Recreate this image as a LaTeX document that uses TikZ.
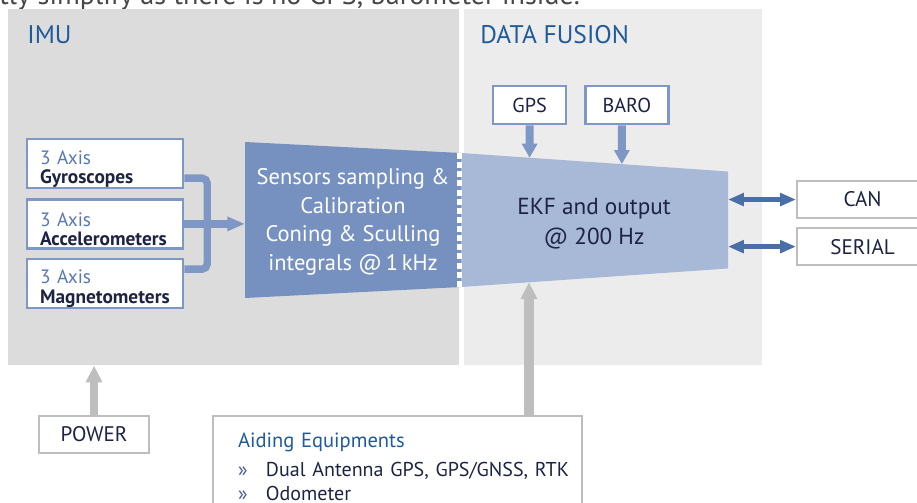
\documentclass[tikz,border=0pt]{standalone}
\usepackage{fontspec}
\setmainfont{PT Sans}
\usetikzlibrary{positioning,arrows.meta,calc}

\definecolor{imugrey}{RGB}{220,220,220}
\definecolor{fusiongrey}{RGB}{236,236,236}
\definecolor{titleblue}{RGB}{31,90,155}
\definecolor{frameblue}{RGB}{127,151,196}
\definecolor{axisblue}{RGB}{88,120,180}
\definecolor{sampleblue}{RGB}{118,145,192}
\definecolor{ekfblue}{RGB}{168,184,215}
\definecolor{navy}{RGB}{29,35,66}
\definecolor{linkblue}{RGB}{74,110,168}
\definecolor{aidgrey}{RGB}{190,190,190}
\definecolor{bulletblue}{RGB}{70,90,170}
\definecolor{textgrey}{RGB}{70,70,70}

\tikzset{
  panel/.style={anchor=north west, inner sep=0pt, minimum height=7.12cm},
  paneltitle/.style={anchor=base west, inner sep=0pt, text=titleblue, font=\fontsize{14.5}{16}\selectfont},
  sensorbox/.style={draw=frameblue, line width=1.3pt, fill=white, anchor=north west, minimum height=0.98cm, text width=2.6cm, inner xsep=0.26cm, inner ysep=0pt, align=left, text=navy, font=\fontsize{11}{11.3}\selectfont},
  inbox/.style={draw=frameblue, line width=1.3pt, fill=white, minimum height=0.76cm, inner sep=0pt, text=navy, font=\fontsize{11.5}{13}\selectfont},
  outbox/.style={draw=aidgrey, line width=1.2pt, fill=white, minimum height=0.74cm, inner sep=0pt, text=navy, font=\fontsize{12}{14}\selectfont},
  bus/.style={draw=frameblue, line width=4.2pt},
  feed/.style={draw=frameblue, line width=4.5pt, -{Triangle[length=8pt,width=8.5pt]}},
  supply/.style={draw=aidgrey, line width=4.6pt, -{Triangle[length=9.6pt,width=9pt]}},
  link/.style={draw=linkblue, line width=3pt, {Triangle[length=9pt,width=7pt]}-{Triangle[length=9pt,width=7pt]}},
}

\begin{document}
\begin{tikzpicture}[x=0.02cm, y=-0.02cm]
\useasboundingbox (0,0) rectangle (917,503);
\clip (0,0) rectangle (917,503);
\node[anchor=base west, inner sep=0pt, text=textgrey, font=\fontsize{16}{18}\selectfont] (prevline) at (-1,5) {tly simplify as there is no GPS, barometer inside.};

\node[panel, fill=imugrey, minimum width=9.02cm] (imu) at (8,9) {};
\node[panel, fill=fusiongrey, minimum width=5.96cm] (fusion) at (464,9) {};
\node[paneltitle] (imutitle) at (27,44) {IMU};
\node[paneltitle] (fusiontitle) at (480,44) {DATA FUSION};

\node[sensorbox] (gyro) at (26,138) {\rule{0pt}{14pt}\textcolor{axisblue}{3 Axis}\\\textbf{Gyroscopes}};
\node[sensorbox, below=0.18cm of gyro] (accel) {\rule{0pt}{14pt}\textcolor{axisblue}{3 Axis}\\\textbf{Accelerometers}};
\node[sensorbox, below=0.16cm of accel] (mag) {\rule{0pt}{14pt}\textcolor{axisblue}{3 Axis}\\\textbf{Magnetometers}};

\coordinate (smpnw) at (245,142);
\coordinate (smpsw) at (245,298);
\coordinate (smpne) at (461,153);
\coordinate (smpse) at (461,287);
\coordinate (ekfne) at (728,171.5);
\coordinate (ekfse) at (728,268.5);
\fill[sampleblue] (smpnw) -- (smpne) -- (smpse) -- (smpsw) -- cycle;
\fill[ekfblue] (smpne) -- (ekfne) -- (ekfse) -- (smpse) -- cycle;
\draw[white, line width=2.6pt, dash pattern=on 3.4pt off 1.8pt] (459.5,153) -- (459.5,287);

\node[align=center, text=white, font=\fontsize{12.8}{16.2}\selectfont] (sampling) at (353,222) {Sensors sampling \&\\Calibration\\Coning \& Sculling\\integrals @\,1\,kHz};
\node[align=center, text=navy, font=\fontsize{13.2}{17}\selectfont] (ekf) at (594,224) {EKF and output\\@ 200 Hz};

\coordinate (busjoin) at ($(accel.east)+(23,0)$);
\draw[bus, rounded corners=3pt] ($(gyro.east)+(0,14.5)$) -| (busjoin) |- ($(mag.east)+(0,-14)$);
\draw[bus, -{Triangle[length=10pt,width=7.6pt]}] (accel.east) -- (accel.east -| smpnw);

\node[inbox, anchor=north west, minimum width=1.46cm] (gps) at (492,85) {GPS};
\node[inbox, right=0.34cm of gps, minimum width=1.66cm] (baro) {BARO};
\coordinate (barotap) at ($(baro.south)+(-5,0)$);
\coordinate (baroup) at ($(baro.north)+(-5,0)$);
\draw[feed] (gps.south) -- (intersection of gps.south--gps.north and smpne--ekfne);
\draw[feed] (barotap) -- (intersection of barotap--baroup and smpne--ekfne);

\node[outbox, anchor=north west, minimum width=2.62cm] (can) at (796,180) {CAN};
\node[outbox, below=0.16cm of can, minimum width=2.62cm] (serial) {SERIAL};
\draw[link] (can.west -| ekfne) -- (can.west);
\draw[link] (serial.west -| ekfne) -- (serial.west);

\node[outbox, anchor=north west, minimum width=2.2cm] (power) at (38,415) {POWER};
\draw[supply] (power.north) -- (power.north |- imu.south);

\node[draw=aidgrey, line width=1.2pt, anchor=north west, text width=6.38cm, inner xsep=0.5cm, inner ysep=0.34cm, align=left, text=navy, font=\fontsize{11.4}{13.6}\selectfont] (aiding) at (212,415) {{\color{titleblue}\fontsize{11.7}{14}\selectfont Aiding Equipments}\\[2.6pt]
\mbox{\makebox[15.9pt][l]{\color{bulletblue}»}Dual Antenna GPS, GPS/GNSS, RTK}\\
\mbox{\makebox[15.9pt][l]{\color{bulletblue}»}Odometer}};
\coordinate (aidtap) at ($(aiding.north west)+(317,0)$);
\coordinate (aidup) at (aidtap |- gps.north);
\draw[supply, line width=5.6pt] (aidtap) -- (intersection of aidtap--aidup and smpse--ekfse);
\end{tikzpicture}
\end{document}
